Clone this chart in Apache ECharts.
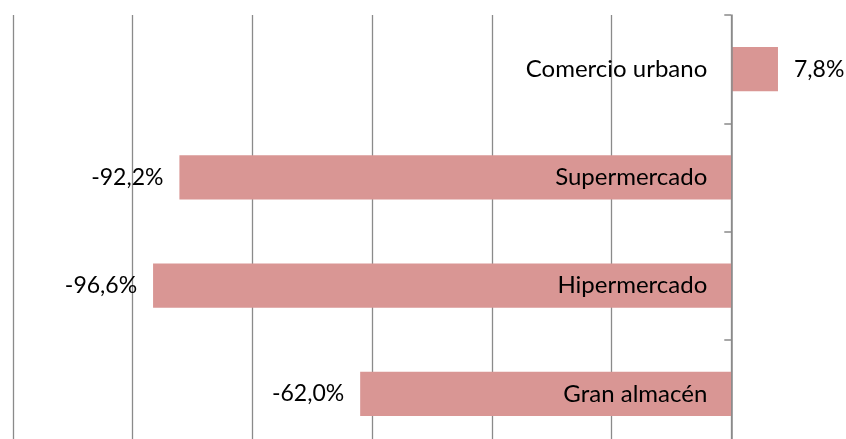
<!DOCTYPE html>
<html>
<head>
<meta charset="utf-8">
<script src="https://cdn.jsdelivr.net/npm/echarts@6/dist/echarts.min.js"></script>
<style>
  html, body { margin: 0; padding: 0; background: #fff; }
  #chart { width: 846px; height: 439px; }
</style>
</head>
<body>
<div id="chart"></div>
<script>
// data, top to bottom
const categories = ['Comercio urbano', 'Supermercado', 'Hipermercado', 'Gran almacén']
const values = [7.8, -92.2, -96.6, -62.0]
const axisMin = -120
const axisMax = 20
const axisStep = 20

const chart = echarts.init(document.getElementById('chart'))

const fmt = v => v.toFixed(1).replace('.', ',') + '%'
const font = 'Lato'

// grid box, the category axis sits on the zero line
const gridLeft = 13
const gridRight = -5
const plotWidth = 846 - gridLeft - gridRight
const zeroOffset = plotWidth * (0 - axisMin) / (axisMax - axisMin)

const option = {
  animation: false,
  textStyle: { fontFamily: font },
  grid: {
    left: gridLeft,
    right: gridRight,
    top: 15,
    bottom: -9,
    outerBoundsMode: 'none'
  },
  xAxis: {
    type: 'value',
    min: axisMin,
    max: axisMax,
    interval: axisStep,
    axisLabel: { show: false },
    axisLine: { show: false },
    axisTick: { show: false },
    splitLine: { lineStyle: { color: '#8a8a8a', width: 1.3 } }
  },
  yAxis: {
    type: 'category',
    inverse: true,
    position: 'left',
    offset: -zeroOffset,
    data: categories,
    z: 5,
    axisLine: { onZero: false, lineStyle: { color: '#8a8a8a', width: 1.5 } },
    axisTick: { show: true, length: 7, lineStyle: { color: '#8a8a8a', width: 1.5 } },
    axisLabel: { show: false }
  },
  series: [
    {
      type: 'bar',
      barWidth: '41%',
      itemStyle: { color: '#d99694' },
      data: values.map(v => ({
        value: v,
        label: { position: v < 0 ? 'left' : 'right' }
      })),
      label: {
        show: true,
        distance: 16,
        color: '#000',
        fontSize: 23,
        fontFamily: font,
        formatter: p => fmt(p.value)
      }
    },
    {
      // same bars again, transparent, only to carry the category names
      type: 'bar',
      barWidth: '41%',
      barGap: '-100%',
      z: 6,
      silent: true,
      itemStyle: { color: 'rgba(0,0,0,0)' },
      data: values.map(v => ({
        value: v,
        label: { position: v < 0 ? 'insideRight' : 'left' }
      })),
      label: {
        show: true,
        distance: 24,
        color: '#000',
        fontSize: 24,
        fontFamily: font,
        formatter: p => categories[p.dataIndex]
      }
    }
  ]
}

chart.setOption(option)
</script>
</body>
</html>
